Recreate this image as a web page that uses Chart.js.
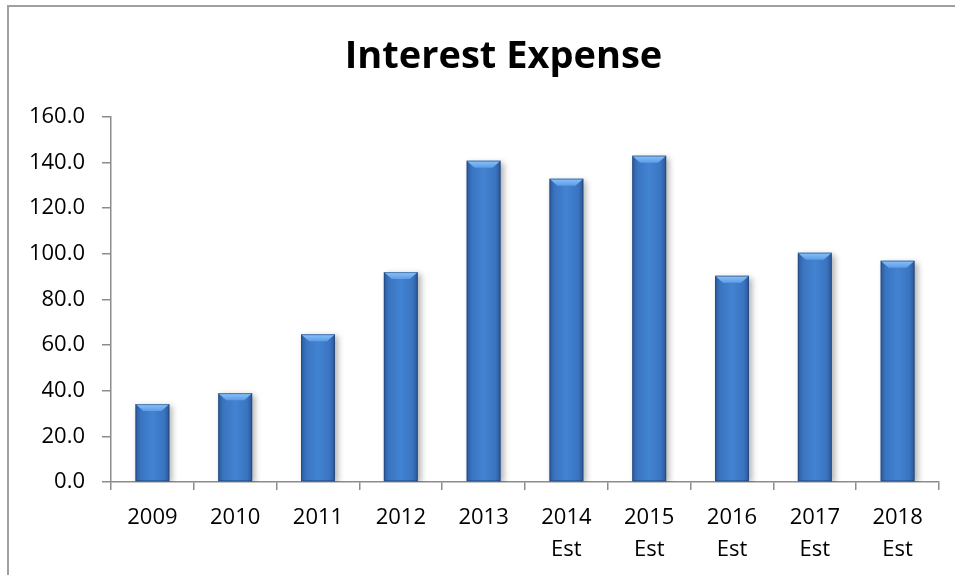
<!DOCTYPE html>
<html>
<head>
<meta charset="utf-8">
<title>Interest Expense</title>
<script src="https://cdn.jsdelivr.net/npm/chart.js@4/dist/chart.umd.min.js"></script>
<style>
  html, body { margin: 0; padding: 0; background: #fff; overflow: hidden; }
  #wrap { position: relative; width: 955px; height: 575px; overflow: hidden; }
  #chart { position: absolute; left: 0; top: 0; }
</style>
</head>
<body>
<div id="wrap"><canvas id="chart" width="1007" height="575"></canvas></div>
<script>
// Interest expense by year, with 2014-2018 estimated
const categories = [
  ['2009'], ['2010'], ['2011'], ['2012'], ['2013'],
  ['2014', 'Est'], ['2015', 'Est'], ['2016', 'Est'], ['2017', 'Est'], ['2018', 'Est']
];
const interestExpense = [34.1, 38.9, 64.7, 91.9, 140.7, 132.8, 142.9, 90.3, 100.4, 96.9];
const yTicks = [0, 20, 40, 60, 80, 100, 120, 140, 160];

const FONT = "'Open Sans', 'Liberation Sans', sans-serif";
const AXIS_GRAY = '#8c8c8c';
const BAR_PCT = 0.41;

// Horizontal gradient across each bar: darker edges, brighter middle
function barFill(ctx) {
  const chart = ctx.chart;
  const xs = chart.scales && chart.scales.x;
  if (!chart.chartArea || !xs || ctx.dataIndex === undefined) return '#3d7cca';
  const cx = xs.getPixelForValue(ctx.dataIndex);
  const half = (xs.width / categories.length) * BAR_PCT / 2;
  if (!Number.isFinite(cx) || !Number.isFinite(half)) return '#3d7cca';
  const g = chart.ctx.createLinearGradient(cx - half, 0, cx + half, 0);
  g.addColorStop(0, '#2b5a9a');
  g.addColorStop(0.15, '#3a74c0');
  g.addColorStop(0.5, '#4283d2');
  g.addColorStop(0.85, '#3a74c0');
  g.addColorStop(1, '#2a5693');
  return g;
}

// Frame around the chart
const framePlugin = {
  id: 'frame',
  beforeDraw(chart) {
    const c = chart.ctx;
    c.save();
    c.fillStyle = '#fff';
    c.fillRect(0, 0, chart.width, chart.height);
    c.strokeStyle = '#a0a0a0';
    c.lineWidth = 2;
    c.strokeRect(8, 6, chart.width + 40, chart.height + 40);
    c.restore();
  }
};

// Soft drop shadow behind bars, and a bevelled highlight on each bar top
const bevelPlugin = {
  id: 'bevel',
  beforeDatasetsDraw(chart) {
    const c = chart.ctx;
    c.save();
    c.shadowColor = 'rgba(0,0,0,0.30)';
    c.shadowBlur = 6;
    c.shadowOffsetX = 3;
    c.shadowOffsetY = 2;
  },
  afterDatasetsDraw(chart) {
    const c = chart.ctx;
    c.restore();
    const meta = chart.getDatasetMeta(0);
    meta.data.forEach(bar => {
      const half = bar.width / 2;
      const l = bar.x - half, r = bar.x + half, t = bar.y, b = bar.base;
      if (![l, r, t, b].every(Number.isFinite)) return;
      const depth = 7, inset = 8;
      c.save();
      const g = c.createLinearGradient(0, t, 0, t + depth);
      g.addColorStop(0, '#8cc4fa');
      g.addColorStop(1, '#5c9be6');
      c.fillStyle = g;
      c.beginPath();
      c.moveTo(l, t);
      c.lineTo(r, t);
      c.lineTo(r - inset, t + depth);
      c.lineTo(l + inset, t + depth);
      c.closePath();
      c.fill();
      c.strokeStyle = 'rgba(30,60,110,0.55)';
      c.lineWidth = 1;
      c.strokeRect(l + 0.5, t + 0.5, bar.width - 1, b - t - 1);
      c.restore();
    });
  }
};

new Chart(document.getElementById('chart'), {
  type: 'bar',
  data: {
    labels: categories,
    datasets: [{
      label: 'Interest Expense',
      data: interestExpense,
      backgroundColor: barFill,
      borderWidth: 0,
      barPercentage: BAR_PCT,
      categoryPercentage: 1.0,
      yAxisID: 'y'
    }]
  },
  options: {
    responsive: false,
    animation: false,
    devicePixelRatio: 1,
    layout: { padding: 0 },
    plugins: {
      legend: { display: false },
      tooltip: { enabled: false },
      title: {
        display: true,
        text: 'Interest Expense',
        color: '#000',
        font: { family: FONT, size: 38, weight: 'bold', lineHeight: 1.2 },
        padding: { top: 34, bottom: 37 }
      }
    },
    scales: {
      x: {
        grid: {
          offset: true,
          drawOnChartArea: false,
          drawTicks: true,
          tickLength: 8,
          color: AXIS_GRAY,
          lineWidth: 1.5
        },
        border: { color: AXIS_GRAY, width: 1.5 },
        ticks: {
          color: '#000',
          font: { family: FONT, size: 22, lineHeight: 1.45 },
          padding: 12,
          maxRotation: 0,
          autoSkip: false
        },
        afterFit(scale) { scale.height = 93; }
      },
      y: {
        position: 'left',
        min: 0,
        max: 160,
        afterBuildTicks(scale) { scale.ticks = yTicks.map(v => ({ value: v })); },
        grid: {
          drawOnChartArea: false,
          drawTicks: true,
          tickLength: 9,
          color: AXIS_GRAY,
          lineWidth: 1.5
        },
        border: { color: AXIS_GRAY, width: 1.5 },
        ticks: {
          color: '#000',
          font: { family: FONT, size: 22 },
          padding: 17,
          callback: v => Number(v).toFixed(1)
        },
        afterFit(scale) { scale.width = 111; }
      },
      // empty right-hand margin of the frame, kept free of marks
      margin: {
        position: 'right',
        min: 0,
        max: 160,
        grid: { display: false, drawOnChartArea: false },
        border: { display: false },
        ticks: { display: false },
        afterFit(scale) { scale.width = 68; }
      }
    }
  },
  plugins: [framePlugin, bevelPlugin]
});
</script>
</body>
</html>
